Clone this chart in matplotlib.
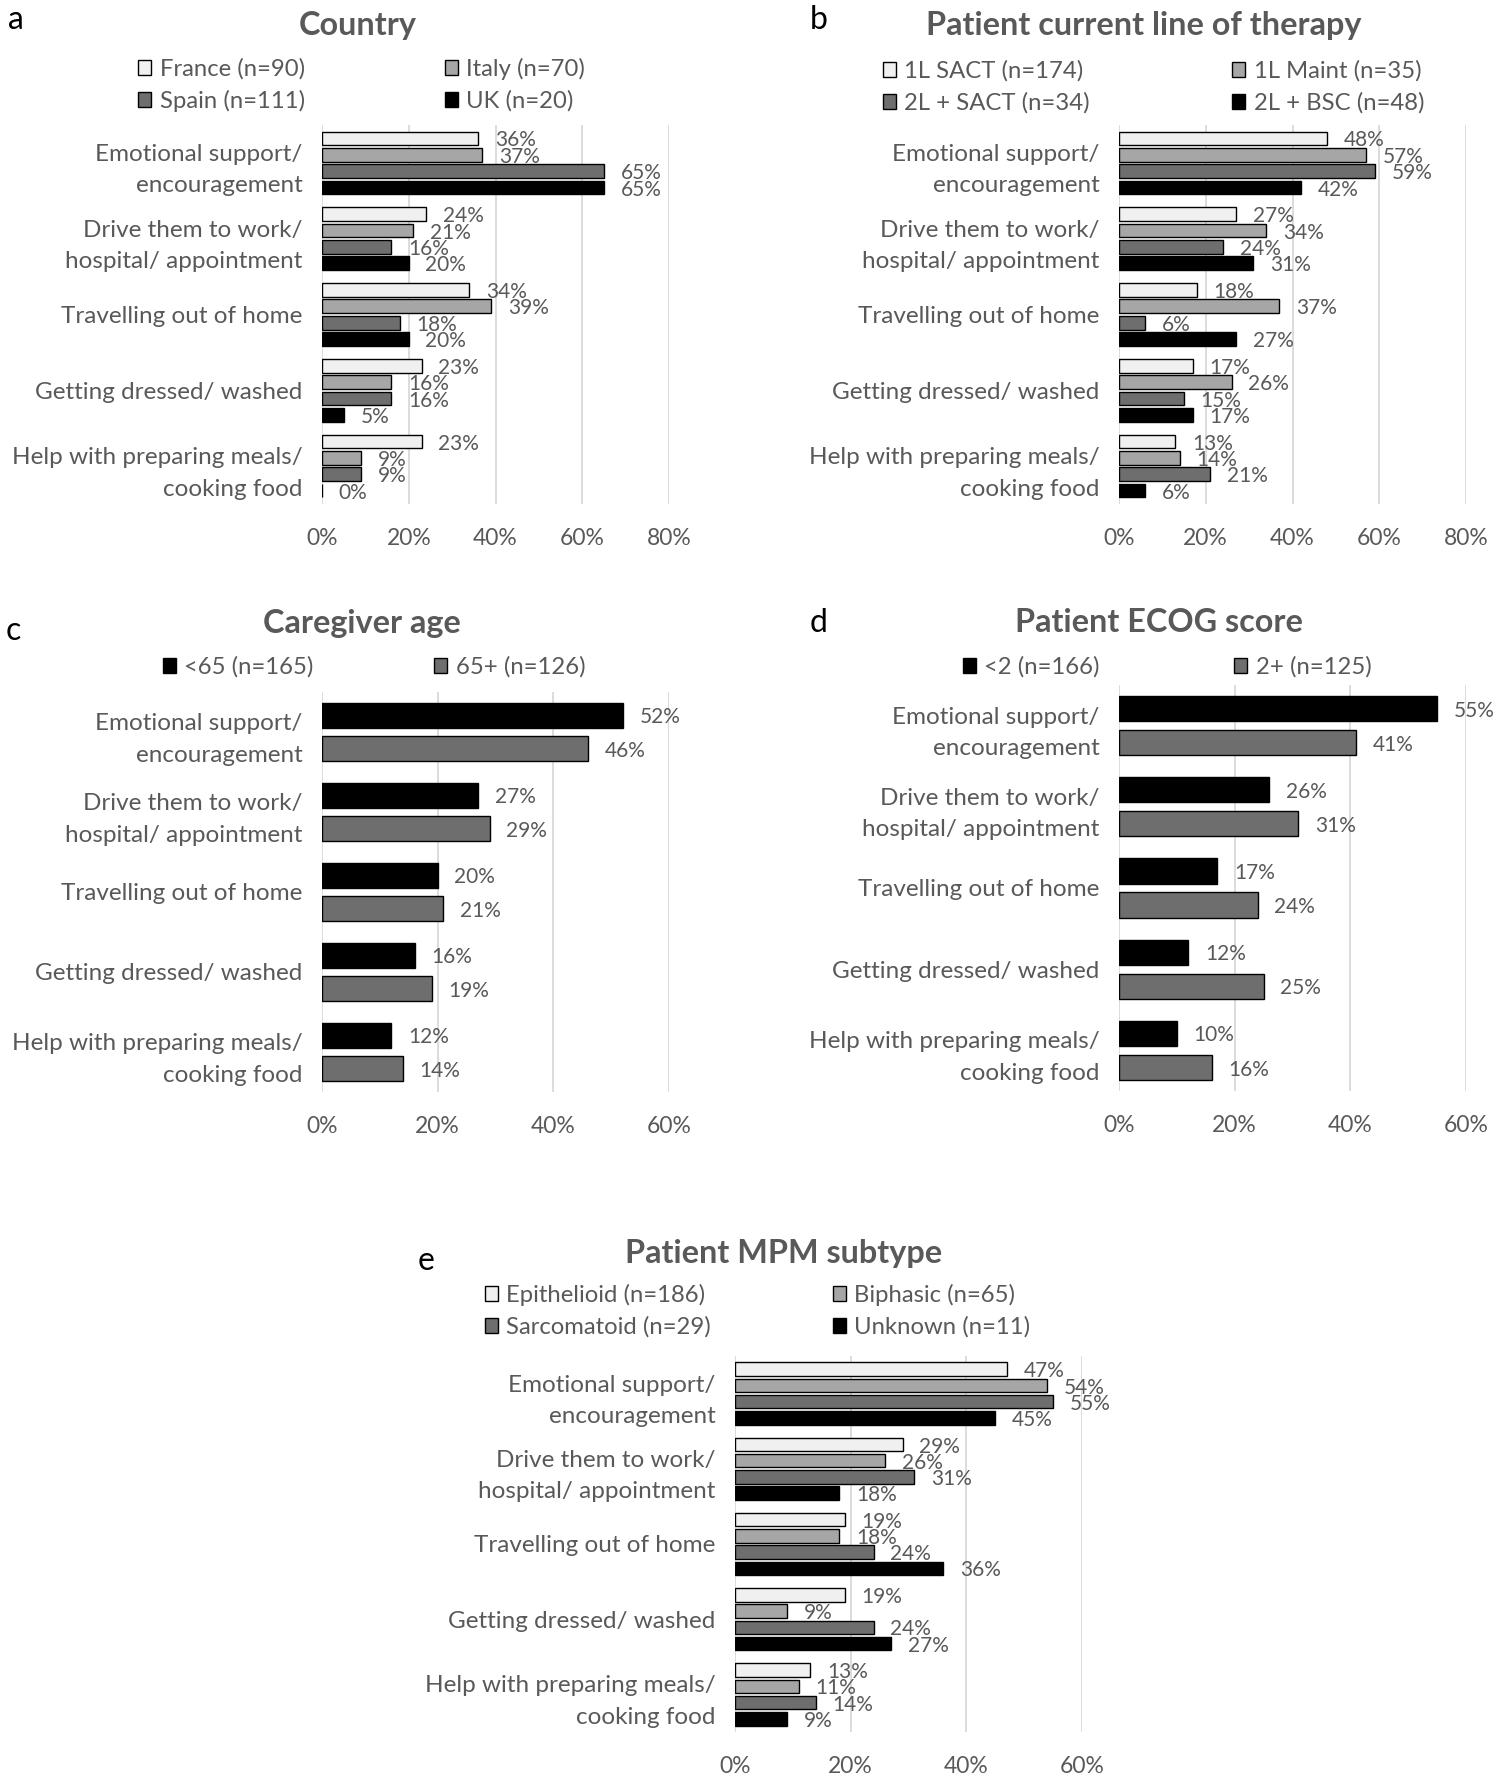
import matplotlib
matplotlib.use("Agg")
import matplotlib.pyplot as plt
from matplotlib.patches import Patch

W, H = 1499, 1778
plt.rcParams['font.family'] = ['Lato', 'DejaVu Sans']
GREY = '#595959'

activities = ["Emotional support/\nencouragement",
              "Drive them to work/\nhospital/ appointment",
              "Travelling out of home",
              "Getting dressed/ washed",
              "Help with preparing meals/\ncooking food"]

# a - country
country_names = ["France (n=90)", "Italy (n=70)", "Spain (n=111)", "UK (n=20)"]
france = [36, 24, 34, 23, 23]
italy = [37, 21, 39, 16, 9]
spain = [65, 16, 18, 16, 9]
uk = [65, 20, 20, 5, 0]

# b - line of therapy
therapy_names = ["1L SACT (n=174)", "1L Maint (n=35)", "2L + SACT (n=34)", "2L + BSC (n=48)"]
sact_1l = [48, 27, 18, 17, 13]
maint_1l = [57, 34, 37, 26, 14]
sact_2l = [59, 24, 6, 15, 21]
bsc_2l = [42, 31, 27, 17, 6]

# c - caregiver age
age_names = ["<65 (n=165)", "65+ (n=126)"]
under65 = [52, 27, 20, 16, 12]
over65 = [46, 29, 21, 19, 14]

# d - ECOG
ecog_names = ["<2 (n=166)", "2+ (n=125)"]
ecog_lt2 = [55, 26, 17, 12, 10]
ecog_2plus = [41, 31, 24, 25, 16]

# e - MPM subtype
subtype_names = ["Epithelioid (n=186)", "Biphasic (n=65)", "Sarcomatoid (n=29)", "Unknown (n=11)"]
epithelioid = [47, 29, 19, 19, 13]
biphasic = [54, 26, 18, 9, 11]
sarcomatoid = [55, 31, 24, 24, 14]
unknown = [45, 18, 36, 27, 9]

four_colors = ['#f0f0f0', '#a6a6a6', '#6e6e6e', '#000000']
two_colors = ['#000000', '#6e6e6e']

fig = plt.figure(figsize=(W / 100, H / 100), dpi=100)


def px_rect(l, t, r, b):
    return [l / W, 1 - b / H, (r - l) / W, (b - t) / H]


def draw_panel(rect, series, names, colors, xmax, title, title_x, title_y,
               letter, letter_xy, leg_cols, leg_rows):
    ax = fig.add_axes(px_rect(*rect))
    n = len(series)
    pitch = 0.216 if n == 4 else 0.42
    height = 0.18 if n == 4 else 0.31
    for k, vals in enumerate(series):
        ys = [i + (k - (n - 1) / 2) * pitch for i in range(len(vals))]
        ax.barh(ys, vals, height=height, color=colors[k], edgecolor='black',
                linewidth=1.0, zorder=3)
        for y, v in zip(ys, vals):
            ax.annotate(f"{v}%", (v, y), xytext=(12, -1.5), textcoords='offset points',
                        ha='left', va='center', fontsize=15, color=GREY, zorder=4)
    ax.set_xlim(0, xmax)
    ax.set_ylim(4.5, -0.5)
    ax.set_xticks(range(0, xmax + 1, 20))
    ax.set_xticklabels([f"{t}%" for t in range(0, xmax + 1, 20)])
    ax.set_yticks(range(len(activities)))
    ax.set_yticklabels(activities, linespacing=1.62)
    ax.tick_params(axis='both', length=0, labelcolor=GREY)
    ax.tick_params(axis='x', pad=17, labelsize=16.5)
    ax.tick_params(axis='y', pad=14, labelsize=17.5)
    ax.grid(axis='x', color='#d9d9d9', linewidth=1.3, zorder=0)
    for s in ax.spines.values():
        s.set_visible(False)

    fig.text(title_x / W, 1 - title_y / H, title, ha='center', va='center',
             fontsize=23.3, fontweight='bold', color=GREY)
    fig.text(letter_xy[0] / W, 1 - letter_xy[1] / H, letter, ha='left', va='center',
             fontsize=23, color='black')

    # legend entries laid out like the original two-column grid
    for k, name in enumerate(names):
        col = k % 2
        row = k // 2
        h = Patch(facecolor=colors[k], edgecolor='black', linewidth=1.0)
        fig.legend(handles=[h], labels=[name], loc='center left',
                   bbox_to_anchor=(leg_cols[col] / W, 1 - leg_rows[row] / H),
                   frameon=False, borderpad=0, borderaxespad=0,
                   handlelength=0.55, handleheight=0.55, handletextpad=0.35,
                   fontsize=17.2, labelcolor=GREY)
    return ax


draw_panel((322, 125, 669, 504), [france, italy, spain, uk], country_names, four_colors, 80,
           "Country", 358, 26, "a", (8, 20), (138, 445), (69, 101))
draw_panel((1119, 125, 1466, 504), [sact_1l, maint_1l, sact_2l, bsc_2l], therapy_names,
           four_colors, 80, "Patient current line of therapy", 1144, 26, "b", (810, 20),
           (883, 1232), (71, 103))
draw_panel((322, 692, 669, 1092), [under65, over65], age_names, two_colors, 60,
           "Caregiver age", 362, 623, "c", (6, 631), (163, 434), (667,))
draw_panel((1119, 685, 1466, 1091), [ecog_lt2, ecog_2plus], ecog_names, two_colors, 60,
           "Patient ECOG score", 1159, 623, "d", (810, 623), (963, 1234), (667,))
draw_panel((735, 1356, 1082, 1732), [epithelioid, biphasic, sarcomatoid, unknown],
           subtype_names, four_colors, 60, "Patient MPM subtype", 784, 1253, "e",
           (418, 1261), (485, 833), (1295, 1327))

fig.savefig("out.png", dpi=100, facecolor='white')
